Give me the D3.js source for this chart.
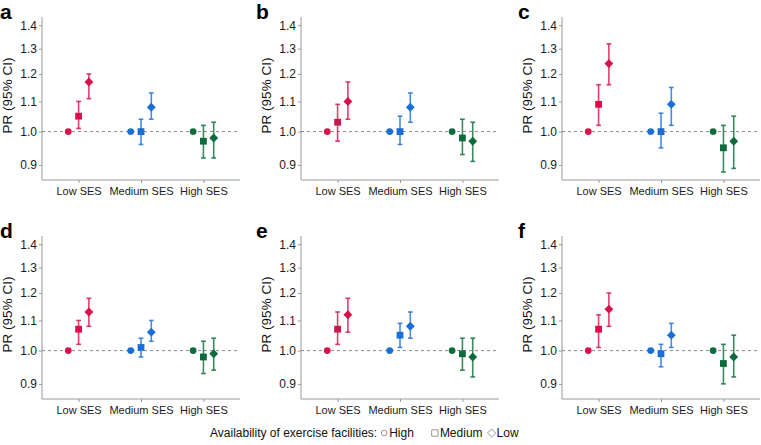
<!DOCTYPE html>
<html>
<head>
<meta charset="utf-8">
<script src="https://cdn.jsdelivr.net/npm/d3@7"></script>
<style>
  html, body { margin: 0; padding: 0; background: #fff; }
  svg { display: block; font-family: "Liberation Sans", Arial, Helvetica, sans-serif; }
</style>
</head>
<body>
<svg id="chart" width="761" height="445"></svg>
<script>
// ---------------- data ----------------
const panelLetters = ["a", "b", "c", "d", "e", "f"];
const sesCategories = ["Low SES", "Medium SES", "High SES"];
const facilityLevels = ["High", "Medium", "Low"];
const yTickValues = [0.9, 1.0, 1.1, 1.2, 1.3, 1.4];
const yAxisTitle = "PR (95% CI)";
const legendTitle = "Availability of exercise facilities:";

// PR per panel, ordered [Low SES: High, Medium, Low facilities, Medium SES: ..., High SES: ...]
const prA = [1.00, 1.05, 1.17, 1.00, 1.00, 1.08, 1.00, 0.97, 0.98];
const loA = [null, 1.01, 1.11, null, 0.96, 1.04, null, 0.92, 0.92];
const hiA = [null, 1.10, 1.20, null, 1.04, 1.13, null, 1.02, 1.03];

const prB = [1.00, 1.03, 1.10, 1.00, 1.00, 1.08, 1.00, 0.98, 0.97];
const loB = [null, 0.97, 1.04, null, 0.96, 1.03, null, 0.93, 0.91];
const hiB = [null, 1.09, 1.17, null, 1.05, 1.13, null, 1.04, 1.03];

const prC = [1.00, 1.09, 1.24, 1.00, 1.00, 1.09, 1.00, 0.95, 0.97];
const loC = [null, 1.02, 1.16, null, 0.95, 1.02, null, 0.88, 0.89];
const hiC = [null, 1.16, 1.32, null, 1.06, 1.15, null, 1.02, 1.05];

const prD = [1.00, 1.07, 1.13, 1.00, 1.01, 1.06, 1.00, 0.98, 0.99];
const loD = [null, 1.02, 1.08, null, 0.98, 1.03, null, 0.93, 0.94];
const hiD = [null, 1.10, 1.18, null, 1.04, 1.10, null, 1.03, 1.04];

const prE = [1.00, 1.07, 1.12, 1.00, 1.05, 1.08, 1.00, 0.99, 0.98];
const loE = [null, 1.02, 1.06, null, 1.01, 1.04, null, 0.94, 0.92];
const hiE = [null, 1.13, 1.18, null, 1.09, 1.13, null, 1.04, 1.04];

const prF = [1.00, 1.07, 1.14, 1.00, 0.99, 1.05, 1.00, 0.96, 0.98];
const loF = [null, 1.01, 1.08, null, 0.95, 1.01, null, 0.90, 0.92];
const hiF = [null, 1.12, 1.20, null, 1.02, 1.09, null, 1.02, 1.05];

const panelPR = [prA, prB, prC, prD, prE, prF];
const panelLo = [loA, loB, loC, loD, loE, loF];
const panelHi = [hiA, hiB, hiC, hiD, hiE, hiF];

// ---------------- layout / style ----------------
const sesColors = ["#d6124a", "#1a6fd6", "#0e6b3b"];
const colAxisX = [42, 301, 562];
const rowAxisTop = [17, 236];
const letterX = [0, 256, 518];
const plotW = 198, plotH = 163;
const dodge = 10.3;
const axisGray = "#9a9a9a";

const svg = d3.select("#chart");

const x = d3.scalePoint().domain(sesCategories).range([0, plotW]).padding(0.586);
const y = d3.scaleLog().domain([0.858, 1.437]).range([plotH, 0]);
const dodgeOffset = d3.scalePoint().domain(facilityLevels).range([-dodge, dodge]);

function shapePath(level, s) {
  if (level === "High") return d3.symbol().type(d3.symbolCircle).size(Math.PI * s * s)();
  if (level === "Medium") return `M${-s},${-s}H${s}V${s}H${-s}Z`;
  const d = s * 1.3;
  return `M0,${-d}L${d},0L0,${d}L${-d},0Z`;
}

panelLetters.forEach((letter, p) => {
  const col = p % 3, row = Math.floor(p / 3);
  const g = svg.append("g").attr("transform", `translate(${colAxisX[col]},${rowAxisTop[row]})`);

  // panel letter
  svg.append("text")
    .attr("x", letterX[col]).attr("y", rowAxisTop[row] + 1.5)
    .attr("font-size", 21).attr("font-weight", "bold").attr("fill", "#000")
    .text(letter);

  // y axis
  const yAxis = d3.axisLeft(y).tickValues(yTickValues).tickFormat(d3.format(".1f")).tickSize(3).tickPadding(2);
  const ya = g.append("g").call(yAxis);
  ya.select(".domain").attr("stroke", axisGray).attr("d", `M0,0V${plotH}`);
  ya.selectAll(".tick line").attr("stroke", axisGray);
  ya.selectAll(".tick text").attr("font-size", 12).attr("fill", "#1a1a1a")
    .attr("font-family", "'Liberation Sans', Arial, sans-serif");

  // x axis
  const xAxis = d3.axisBottom(x).tickSize(3).tickPadding(4);
  const xa = g.append("g").attr("transform", `translate(0,${plotH})`).call(xAxis);
  xa.select(".domain").attr("stroke", axisGray).attr("d", `M0,0H${plotW}`);
  xa.selectAll(".tick line").attr("stroke", axisGray);
  xa.selectAll(".tick text").attr("font-size", 11).attr("fill", "#1a1a1a")
    .attr("font-family", "'Liberation Sans', Arial, sans-serif");

  // y title
  g.append("text")
    .attr("transform", `translate(-30,${plotH / 2 - 3}) rotate(-90)`)
    .attr("text-anchor", "middle").attr("font-size", 13.5).attr("fill", "#111")
    .text(yAxisTitle);

  // reference line at 1.0
  g.append("line")
    .attr("x1", 0).attr("x2", plotW).attr("y1", y(1)).attr("y2", y(1))
    .attr("stroke", "#8a8a8a").attr("stroke-width", 1).attr("stroke-dasharray", "3,3");

  // points
  const pts = [];
  sesCategories.forEach((ses, si) => {
    facilityLevels.forEach((lev, li) => {
      const k = si * 3 + li;
      pts.push({ ses, si, lev, pr: panelPR[p][k], lo: panelLo[p][k], hi: panelHi[p][k] });
    });
  });

  const cap = 2.4;
  const eb = g.append("g").selectAll("g").data(pts.filter(d => d.lo !== null)).join("g")
    .attr("stroke", d => sesColors[d.si]).attr("stroke-width", 1.6).attr("stroke-opacity", 0.8);
  eb.append("line")
    .attr("x1", d => x(d.ses) + dodgeOffset(d.lev)).attr("x2", d => x(d.ses) + dodgeOffset(d.lev))
    .attr("y1", d => y(d.lo)).attr("y2", d => y(d.hi));
  eb.append("line")
    .attr("x1", d => x(d.ses) + dodgeOffset(d.lev) - cap).attr("x2", d => x(d.ses) + dodgeOffset(d.lev) + cap)
    .attr("y1", d => y(d.lo)).attr("y2", d => y(d.lo));
  eb.append("line")
    .attr("x1", d => x(d.ses) + dodgeOffset(d.lev) - cap).attr("x2", d => x(d.ses) + dodgeOffset(d.lev) + cap)
    .attr("y1", d => y(d.hi)).attr("y2", d => y(d.hi));

  g.append("g").selectAll("path").data(pts).join("path")
    .attr("transform", d => `translate(${x(d.ses) + dodgeOffset(d.lev)},${y(d.pr)})`)
    .attr("d", d => shapePath(d.lev, 3.4))
    .attr("fill", d => sesColors[d.si]);
});

// ---------------- legend ----------------
const leg = svg.append("g").attr("font-size", 12).attr("fill", "#111");
let lx = 210;
const ly = 437;
const t0 = leg.append("text").attr("x", lx).attr("y", ly).text(legendTitle);
lx += t0.node().getComputedTextLength() + 7;
const legendShapes = { High: 2.8, Medium: 3.2, Low: 3.0 };
facilityLevels.forEach((lev, i) => {
  const s = legendShapes[lev];
  let path;
  if (lev === "High") path = d3.symbol().type(d3.symbolCircle).size(Math.PI * s * s)();
  else if (lev === "Medium") path = `M${-s},${-s}H${s}V${s}H${-s}Z`;
  else path = `M0,${-s * 1.35}L${s * 1.35},0L0,${s * 1.35}L${-s * 1.35},0Z`;
  leg.append("path").attr("d", path)
    .attr("transform", `translate(${lx},${ly - 4})`)
    .attr("fill", "none").attr("stroke", "#8a8a8a").attr("stroke-width", 0.9);
  const t = leg.append("text").attr("x", lx + 5).attr("y", ly).text(lev);
  lx += 5 + t.node().getComputedTextLength() + (i === 0 ? 21 : 9);
});
</script>
</body>
</html>
